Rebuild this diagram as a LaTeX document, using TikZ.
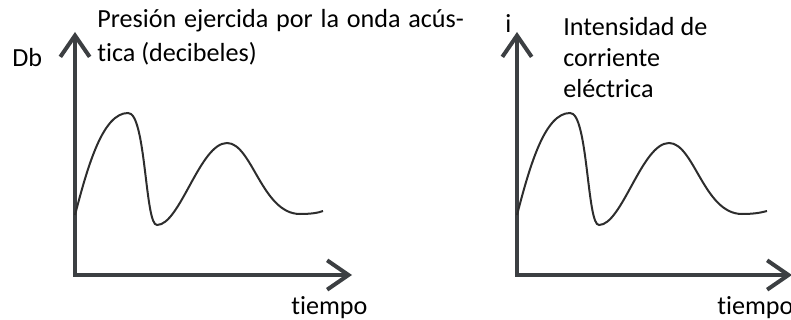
\documentclass[tikz,border=0pt]{standalone}
\usepackage{fontspec}
\setmainfont{Carlito}[Ligatures=NoCommon]
\usepackage{xcolor}
\usepackage{tikz}
\usetikzlibrary{arrows.meta,positioning}
\definecolor{gris}{RGB}{60,63,66}
\definecolor{linea}{RGB}{45,45,45}
\tikzset{
  eje/.style={draw=gris, line width=3pt, line join=miter,
    {Straight Barb[length=16pt,width=22pt]}-{Straight Barb[length=16pt,width=22pt]}},
  curva/.style={draw=linea, line width=1.5pt},
  etiq/.style={inner sep=0pt, anchor=base west, align=left, text=black,
    font=\fontsize{19.6}{24}\selectfont}
}

\begin{document}
\begin{tikzpicture}[x=0.75pt,y=-0.75pt]
				\useasboundingbox (0,0) rectangle (791,320);
				\tikzstyle{every node}=[etiq]
				% izquierda: presion acustica
				\coordinate (origA) at (75,275);
				\coordinate (yA) at (75,32);
				\coordinate (xA) at (352,275);
				\draw[eje] (yA) -- (origA) -- (xA);
				\draw[curva] (75,215) .. controls (88,165) and (103,113) .. (128,113)
					.. controls (146,112) and (145,226) .. (157,225)
					.. controls (180,225) and (200,143) .. (227,143)
					.. controls (252,143) and (262,214) .. (300,214)
					.. controls (310,214) and (318,213) .. (323,211);
				\node (db) at (12,67) {Db};
				\node[font=\fontsize{19.6}{26}\selectfont] (presion) at (97,62)
					{\makebox[275pt][s]{Presión ejercida por la onda acús-}\\tica (decibeles)};
				\node (tiempoA) at (291,314) {tiempo};
				% derecha: corriente electrica
				\coordinate (origB) at (517,275);
				\coordinate (yB) at (517,32);
				\coordinate (xB) at (792,275);
				\draw[eje] (yB) -- (origB) -- (xB);
				\draw[curva, shift={(442,0)}] (75,215) .. controls (88,165) and (103,113) .. (128,113)
					.. controls (146,112) and (145,226) .. (157,225)
					.. controls (180,225) and (200,143) .. (227,143)
					.. controls (252,143) and (262,214) .. (300,214)
					.. controls (310,214) and (318,213) .. (325,211);
				\node (i) at (505,33) {i};
				\node[font=\fontsize{19.6}{23.6}\selectfont] (intensidad) at (563,98) {Intensidad de\\corriente\\eléctrica};
				\node (tiempoB) at (717,314) {tiempo};
			\end{tikzpicture}
\end{document}
